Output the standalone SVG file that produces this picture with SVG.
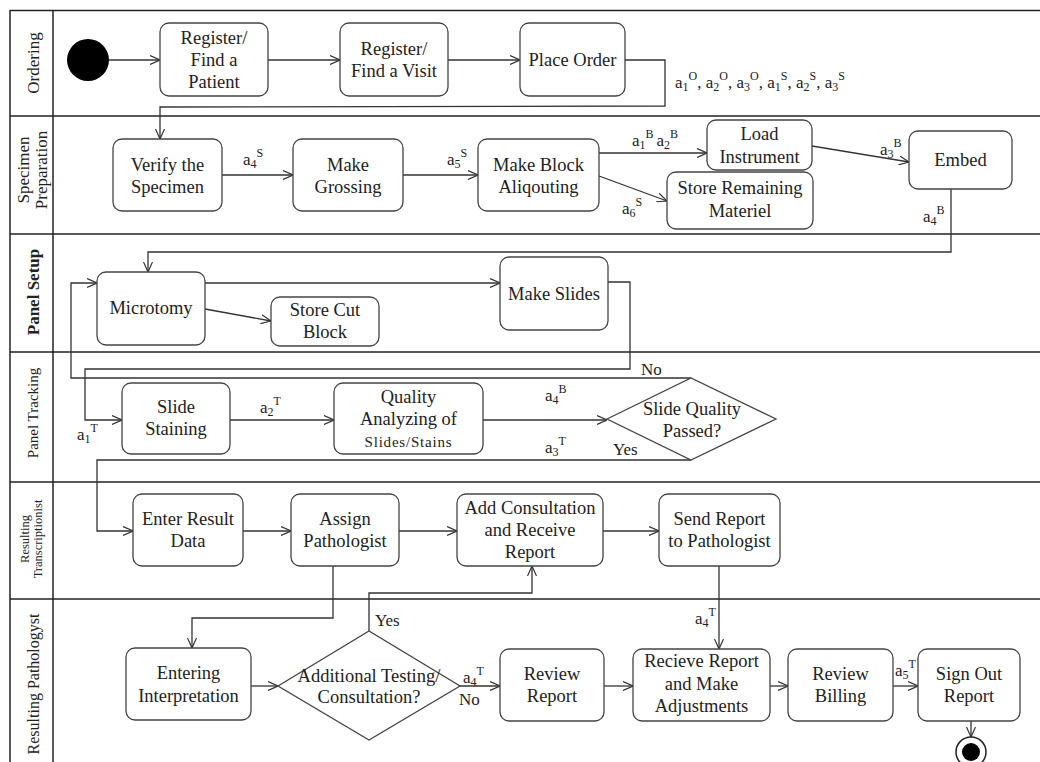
<svg xmlns="http://www.w3.org/2000/svg" width="1040" height="762" viewBox="0 0 1040 762">
<style>
.frame{stroke:#222;stroke-width:1.5;fill:none}
.node rect,.node polygon{fill:#fff;stroke:#444;stroke-width:1.3}
.t{font-family:"Liberation Serif","Times New Roman",serif;font-size:18.5px;fill:#222;text-anchor:middle}
.ts{font-family:"Liberation Serif","Times New Roman",serif;font-size:15px;fill:#222;text-anchor:middle}
.lane{font-family:"Liberation Serif","Times New Roman",serif;fill:#222;text-anchor:middle}
.c path,.c line,.c polyline{stroke:#333;stroke-width:1.3;fill:none}
.lbl{font-family:"Liberation Serif","Times New Roman",serif;font-size:17px;fill:#222}
.sm{font-size:12px}
</style>
<defs>
<marker id="ah" viewBox="0 0 10 10" refX="10" refY="5" markerWidth="10" markerHeight="10" markerUnits="userSpaceOnUse" orient="auto">
<path d="M0,0.5 L10,5 L0,9.5" fill="none" stroke="#333" stroke-width="1.2"/>
</marker>
</defs>
<rect width="1040" height="762" fill="#fff"/>
<g id="frame">
<line class="frame" x1="10" y1="10.5" x2="1040" y2="10.5"/>
<line class="frame" x1="10" y1="10" x2="10" y2="762"/>
<line class="frame" x1="53" y1="10" x2="53" y2="762"/>
<line class="frame" x1="10" y1="116" x2="1040" y2="116"/>
<line class="frame" x1="10" y1="234" x2="1040" y2="234"/>
<line class="frame" x1="10" y1="352" x2="1040" y2="352"/>
<line class="frame" x1="10" y1="482" x2="1040" y2="482"/>
<line class="frame" x1="10" y1="599" x2="1040" y2="599"/>
</g>
<g id="lanes">
<text class="lane" font-size="17" transform="translate(39,63) rotate(-90)">Ordering</text>
<text class="lane" font-size="17" transform="translate(29,170) rotate(-90)">Specimen</text>
<text class="lane" font-size="17" transform="translate(47,170) rotate(-90)">Preparation</text>
<text class="lane" font-size="17" font-weight="bold" transform="translate(39,292) rotate(-90)">Panel Setup</text>
<text class="lane" font-size="15" transform="translate(38,413) rotate(-90)">Panel Tracking</text>
<text class="lane" font-size="12.5" transform="translate(29,539) rotate(-90)">Resulting</text>
<text class="lane" font-size="12.5" transform="translate(42,539) rotate(-90)">Transcriptionist</text>
<text class="lane" font-size="16" transform="translate(39,684) rotate(-90)">Resulting Pathologyst</text>
</g>
<g id="connectors" class="c">
<line x1="109" y1="60" x2="160" y2="60" marker-end="url(#ah)"/>
<line x1="268" y1="60" x2="340" y2="60" marker-end="url(#ah)"/>
<line x1="448" y1="60" x2="520" y2="60" marker-end="url(#ah)"/>
<polyline points="625,60 665,60 665,106 160,107 160,139" marker-end="url(#ah)"/>
<line x1="222" y1="175" x2="293" y2="175" marker-end="url(#ah)"/>
<line x1="403" y1="175" x2="478" y2="175" marker-end="url(#ah)"/>
<line x1="599" y1="153" x2="707" y2="153" marker-end="url(#ah)"/>
<line x1="599" y1="176" x2="667" y2="201" marker-end="url(#ah)"/>
<line x1="812" y1="146" x2="909" y2="162" marker-end="url(#ah)"/>
<polyline points="951,189 951,252 148,252 148,272" marker-end="url(#ah)"/>
<line x1="205" y1="283" x2="500" y2="283" marker-end="url(#ah)"/>
<line x1="205" y1="309" x2="271" y2="321" marker-end="url(#ah)"/>
<polyline points="608,282 630,282 630,369 85,369 85,420 122,420" marker-end="url(#ah)"/>
<line x1="230" y1="420" x2="334" y2="420" marker-end="url(#ah)"/>
<line x1="483" y1="420" x2="607" y2="420" marker-end="url(#ah)"/>
<polyline points="691,378 71,378 71,283 97,283" marker-end="url(#ah)"/>
<polyline points="691,460 97,460 97,531 133,531" marker-end="url(#ah)"/>
<line x1="243" y1="531" x2="291" y2="531" marker-end="url(#ah)"/>
<line x1="399" y1="531" x2="457" y2="531" marker-end="url(#ah)"/>
<line x1="603" y1="531" x2="659" y2="531" marker-end="url(#ah)"/>
<polyline points="333,566 333,618 192,618 192,648" marker-end="url(#ah)"/>
<line x1="251" y1="686" x2="278" y2="686" marker-end="url(#ah)"/>
<polyline points="369,631 369,593 532,593 532,566" marker-end="url(#ah)"/>
<line x1="719" y1="566" x2="719" y2="649" marker-end="url(#ah)"/>
<line x1="460" y1="686" x2="500" y2="686" marker-end="url(#ah)"/>
<line x1="604" y1="686" x2="633" y2="686" marker-end="url(#ah)"/>
<line x1="770" y1="686" x2="788" y2="686" marker-end="url(#ah)"/>
<line x1="893" y1="686" x2="918" y2="686" marker-end="url(#ah)"/>
<line x1="971" y1="721" x2="971" y2="737" marker-end="url(#ah)"/>
</g>
<g id="labels">
<text class="lbl" x="675" y="88">a<tspan class="sm" dy="3">1</tspan><tspan class="sm" dy="-11">O</tspan><tspan dy="8">, a</tspan><tspan class="sm" dy="3">2</tspan><tspan class="sm" dy="-11">O</tspan><tspan dy="8">, a</tspan><tspan class="sm" dy="3">3</tspan><tspan class="sm" dy="-11">O</tspan><tspan dy="8">, a</tspan><tspan class="sm" dy="3">1</tspan><tspan class="sm" dy="-11">S</tspan><tspan dy="8">, a</tspan><tspan class="sm" dy="3">2</tspan><tspan class="sm" dy="-11">S</tspan><tspan dy="8">, a</tspan><tspan class="sm" dy="3">3</tspan><tspan class="sm" dy="-11">S</tspan></text>
<text class="lbl" x="243" y="165">a<tspan class="sm" dy="3">4</tspan><tspan class="sm" dy="-11">S</tspan></text>
<text class="lbl" x="447" y="165">a<tspan class="sm" dy="3">5</tspan><tspan class="sm" dy="-11">S</tspan></text>
<text class="lbl" x="632" y="146">a<tspan class="sm" dy="3">1</tspan><tspan class="sm" dy="-11">B </tspan><tspan dy="8">a</tspan><tspan class="sm" dy="3">2</tspan><tspan class="sm" dy="-11">B</tspan></text>
<text class="lbl" x="622" y="214">a<tspan class="sm" dy="3">6</tspan><tspan class="sm" dy="-11">S</tspan></text>
<text class="lbl" x="880" y="155">a<tspan class="sm" dy="3">3</tspan><tspan class="sm" dy="-11">B</tspan></text>
<text class="lbl" x="923" y="222">a<tspan class="sm" dy="3">4</tspan><tspan class="sm" dy="-11">B</tspan></text>
<text class="lbl" x="77" y="440">a<tspan class="sm" dy="3">1</tspan><tspan class="sm" dy="-11">T</tspan></text>
<text class="lbl" x="260" y="413">a<tspan class="sm" dy="3">2</tspan><tspan class="sm" dy="-11">T</tspan></text>
<text class="lbl" x="545" y="401">a<tspan class="sm" dy="3">4</tspan><tspan class="sm" dy="-11">B</tspan></text>
<text class="lbl" x="545" y="453">a<tspan class="sm" dy="3">3</tspan><tspan class="sm" dy="-11">T</tspan></text>
<text class="lbl" x="641" y="375" font-size="17">No</text>
<text class="lbl" x="613" y="455" font-size="17">Yes</text>
<text class="lbl" x="375" y="626" font-size="17">Yes</text>
<text class="lbl" x="463" y="683">a<tspan class="sm" dy="3">4</tspan><tspan class="sm" dy="-11">T</tspan></text>
<text class="lbl" x="459" y="705" font-size="17">No</text>
<text class="lbl" x="695" y="624">a<tspan class="sm" dy="3">4</tspan><tspan class="sm" dy="-11">T</tspan></text>
<text class="lbl" x="895" y="676">a<tspan class="sm" dy="3">5</tspan><tspan class="sm" dy="-11">T</tspan></text>
</g>
<g id="start"><circle cx="88" cy="60" r="21" fill="#000"/></g>
<g id="n-patient" class="node"><rect x="160" y="23" width="108" height="73" rx="9"/><text class="t" x="214" y="44">Register/</text><text class="t" x="214" y="66">Find a</text><text class="t" x="214" y="88">Patient</text></g>
<g id="n-visit" class="node"><rect x="340" y="23" width="108" height="73" rx="9"/><text class="t" x="394" y="55">Register/</text><text class="t" x="394" y="77">Find a Visit</text></g>
<g id="n-order" class="node"><rect x="520" y="23" width="105" height="73" rx="9"/><text class="t" x="572.5" y="66">Place Order</text></g>
<g id="n-verify" class="node"><rect x="113" y="139" width="109" height="72" rx="9"/><text class="t" x="167.5" y="171">Verify the</text><text class="t" x="167.5" y="193">Specimen</text></g>
<g id="n-grossing" class="node"><rect x="293" y="139" width="110" height="72" rx="9"/><text class="t" x="348" y="171">Make</text><text class="t" x="348" y="193">Grossing</text></g>
<g id="n-block" class="node"><rect x="478" y="139" width="121" height="72" rx="9"/><text class="t" x="538.5" y="171">Make Block</text><text class="t" x="538.5" y="193">Aliqouting</text></g>
<g id="n-load" class="node"><rect x="707" y="120" width="105" height="50" rx="9"/><text class="t" x="759.5" y="140">Load</text><text class="t" x="759.5" y="163">Instrument</text></g>
<g id="n-store" class="node"><rect x="667" y="172" width="146" height="57" rx="9"/><text class="t" x="740" y="194">Store Remaining</text><text class="t" x="740" y="217">Materiel</text></g>
<g id="n-embed" class="node"><rect x="909" y="131" width="103" height="58" rx="9"/><text class="t" x="960.5" y="166">Embed</text></g>
<g id="n-microtomy" class="node"><rect x="97" y="272" width="108" height="73" rx="9"/><text class="t" x="151" y="314">Microtomy</text></g>
<g id="n-storecut" class="node"><rect x="271" y="297" width="108" height="49" rx="9"/><text class="t" x="325" y="316">Store Cut</text><text class="t" x="325" y="338">Block</text></g>
<g id="n-slides" class="node"><rect x="500" y="257" width="108" height="73" rx="9"/><text class="t" x="554" y="300">Make Slides</text></g>
<g id="n-staining" class="node"><rect x="122" y="383" width="108" height="71" rx="9"/><text class="t" x="176" y="413">Slide</text><text class="t" x="176" y="435">Staining</text></g>
<g id="n-quality" class="node"><rect x="334" y="383" width="149" height="71" rx="9"/><text class="t" x="408.5" y="403">Quality</text><text class="t" x="408.5" y="425">Analyzing of</text><text class="ts" x="408.5" y="447" letter-spacing="0.8">Slides/Stains</text></g>
<g id="n-passed" class="node"><polygon points="607,419 691,378 776,419 691,460"/><text class="t" x="692" y="415" font-size="17.5">Slide Quality</text><text class="t" x="692" y="437" font-size="17.5">Passed?</text></g>
<g id="n-enter" class="node"><rect x="133" y="494" width="110" height="72" rx="9"/><text class="t" x="188" y="525">Enter Result</text><text class="t" x="188" y="547">Data</text></g>
<g id="n-assign" class="node"><rect x="291" y="494" width="108" height="72" rx="9"/><text class="t" x="345" y="525">Assign</text><text class="t" x="345" y="547">Pathologist</text></g>
<g id="n-consult" class="node"><rect x="457" y="494" width="146" height="72" rx="9"/><text class="t" x="530" y="514">Add Consultation</text><text class="t" x="530" y="536">and Receive</text><text class="t" x="530" y="558">Report</text></g>
<g id="n-send" class="node"><rect x="659" y="494" width="121" height="72" rx="9"/><text class="t" x="719.5" y="525">Send Report</text><text class="t" x="719.5" y="547">to Pathologist</text></g>
<g id="n-interp" class="node"><rect x="126" y="648" width="125" height="72" rx="9"/><text class="t" x="188.5" y="679" font-size="19">Entering</text><text class="t" x="188.5" y="702" font-size="19">Interpretation</text></g>
<g id="n-additional" class="node"><polygon points="278,686 369,631 460,686 369,740"/><text class="t" x="369" y="682" font-size="16">Additional Testing/</text><text class="t" x="369" y="703" font-size="16">Consultation?</text></g>
<g id="n-review" class="node"><rect x="500" y="649" width="104" height="72" rx="9"/><text class="t" x="552" y="680">Review</text><text class="t" x="552" y="702">Report</text></g>
<g id="n-receive" class="node"><rect x="633" y="649" width="137" height="72" rx="9"/><text class="t" x="701.5" y="667">Recieve Report</text><text class="t" x="701.5" y="690">and Make</text><text class="t" x="701.5" y="712">Adjustments</text></g>
<g id="n-billing" class="node"><rect x="788" y="649" width="105" height="72" rx="9"/><text class="t" x="840.5" y="680">Review</text><text class="t" x="840.5" y="702">Billing</text></g>
<g id="n-signout" class="node"><rect x="918" y="649" width="102" height="72" rx="9"/><text class="t" x="969" y="680">Sign Out</text><text class="t" x="969" y="702">Report</text></g>
<g id="end"><circle cx="971" cy="752" r="15" fill="#fff" stroke="#222" stroke-width="1.5"/><circle cx="971" cy="752" r="9" fill="#000"/></g>
</svg>
